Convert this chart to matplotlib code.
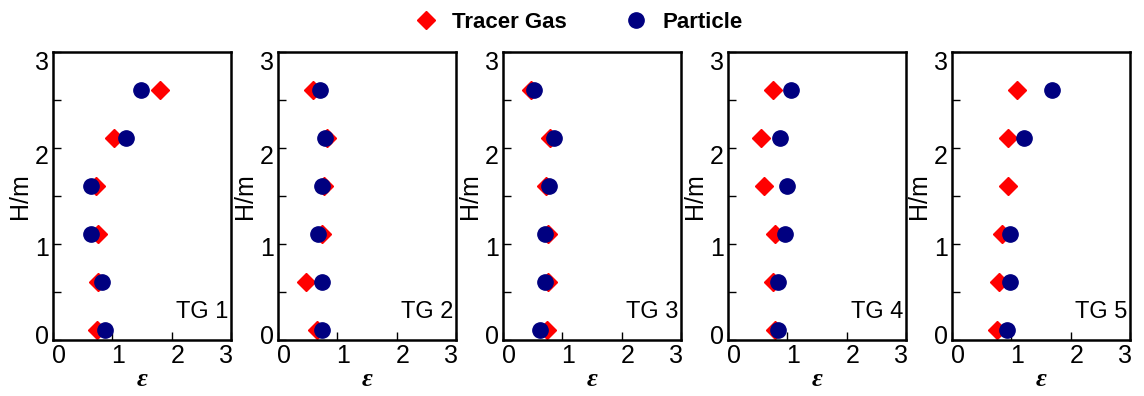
import numpy as np
import matplotlib
matplotlib.use("Agg")
import matplotlib.pyplot as plt
from matplotlib.lines import Line2D
from matplotlib.transforms import ScaledTranslation

plt.rcParams['font.family'] = ['Liberation Sans', 'DejaVu Sans']

heights = [0.1, 0.6, 1.1, 1.6, 2.1, 2.6]
panel_labels = ["TG 1", "TG 2", "TG 3", "TG 4", "TG 5"]

tracer_tg1 = [0.74, 0.75, 0.75, 0.72, 1.02, 1.80]
tracer_tg2 = [0.66, 0.47, 0.74, 0.77, 0.82, 0.59]
tracer_tg3 = [0.74, 0.76, 0.76, 0.73, 0.79, 0.48]
tracer_tg4 = [0.79, 0.75, 0.80, 0.60, 0.55, 0.75]
tracer_tg5 = [0.76, 0.79, 0.85, 0.94, 0.94, 1.10]

particle_tg1 = [0.87, 0.83, 0.645, 0.645, 1.23, 1.49]
particle_tg2 = [0.74, 0.74, 0.68, 0.74, 0.79, 0.70]
particle_tg3 = [0.63, 0.71, 0.71, 0.77, 0.86, 0.52]
particle_tg4 = [0.84, 0.85, 0.96, 0.99, 0.87, 1.06]
particle_tg5 = [0.93, 0.97, 0.97, np.nan, 1.21, 1.68]

tracer = [tracer_tg1, tracer_tg2, tracer_tg3, tracer_tg4, tracer_tg5]
particle = [particle_tg1, particle_tg2, particle_tg3, particle_tg4, particle_tg5]

RED = "#FF0000"
NAVY = "#000080"

W, H = 1144, 396
fig = plt.figure(figsize=(W / 100, H / 100), dpi=100)

lefts = [53, 278, 503, 728, 952]
ax_w = 178
ax_top, ax_bot = 52, 340

# small pixel offsets of tick labels, as in the reference
x_off = [6, 6, 6, -5]
y_off = [6, -3, -6, -8]

for i in range(5):
    ax = fig.add_axes([lefts[i] / W, (H - ax_bot) / H, ax_w / W, (ax_bot - ax_top) / H])
    ax.plot(tracer[i], heights, linestyle="none", marker="D", ms=9, color=RED, mec=RED)
    ax.plot(particle[i], heights, linestyle="none", marker="o", ms=11, color=NAVY, mec=NAVY)
    ax.set_xlim(0, 3)
    ax.set_ylim(0, 3)
    ax.set_xticks([0, 1, 2, 3])
    ax.set_yticks([0, 1, 2, 3])
    ax.set_yticks([0.5, 1.5, 2.5], minor=True)
    ax.tick_params(axis='both', which='major', direction='in', length=6, width=1,
                   labelsize=18, pad=3)
    ax.tick_params(axis='y', which='minor', direction='in', length=6, width=1)
    ax.tick_params(top=False, right=False)
    for s in ax.spines.values():
        s.set_linewidth(1.8)
    for lab, dx in zip(ax.get_xticklabels(), x_off):
        lab.set_transform(lab.get_transform() + ScaledTranslation(dx / 100, 0, fig.dpi_scale_trans))
    for lab, dy in zip(ax.get_yticklabels(), y_off):
        lab.set_transform(lab.get_transform() + ScaledTranslation(0, dy / 100, fig.dpi_scale_trans))
    ax.set_ylabel("H/m", fontsize=18, labelpad=2)
    ax.set_xlabel("ε", fontsize=19, fontweight='bold', fontstyle='italic',
                  family=['Liberation Serif', 'DejaVu Serif'], labelpad=0)
    ax.text(0.985, 0.075, panel_labels[i], transform=ax.transAxes, ha='right', va='baseline',
            fontsize=17)

handles = [
    Line2D([], [], linestyle="none", marker="D", ms=9, color=RED, label="Tracer Gas"),
    Line2D([], [], linestyle="none", marker="o", ms=11, color=NAVY, label="Particle"),
]
fig.legend(handles=handles, loc='upper center', bbox_to_anchor=(0.506, 1.02), ncol=2,
           frameon=False, prop={'size': 16, 'weight': 'bold'}, handlelength=1,
           handletextpad=0.7, columnspacing=2.6)

fig.savefig("out.png", dpi=100)
